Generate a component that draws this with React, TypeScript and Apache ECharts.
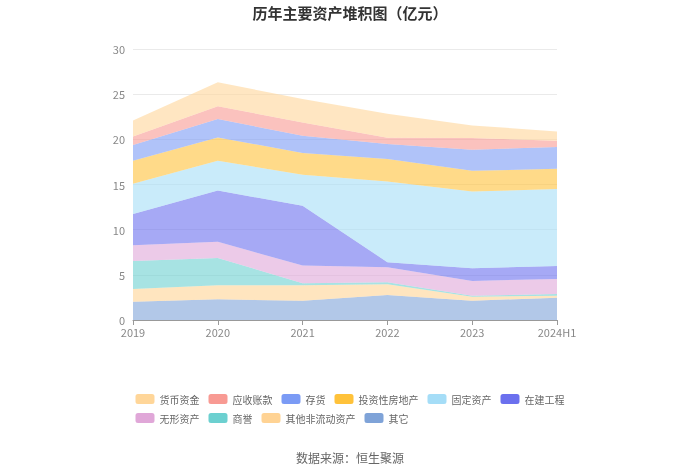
import React, { useEffect, useRef } from "react";
import * as echarts from "echarts";

const categories = ["2019", "2020", "2021", "2022", "2023", "2024H1"];

// bottom → top stacking order
const qita = [2.03, 2.29, 2.14, 2.77, 2.14, 2.47];
const qitaFeiLiudong = [1.4, 1.56, 1.71, 1.18, 0.44, 0.22];
const shangyu = [3.1, 3.02, 0.22, 0.23, 0.11, 0.19];
const wuxing = [1.74, 1.78, 1.95, 1.66, 1.63, 1.67];
const zaijian = [3.47, 5.69, 6.62, 0.56, 1.41, 1.44];
const guding = [3.33, 3.29, 3.43, 8.93, 8.5, 8.5];
const touzi = [2.55, 2.58, 2.41, 2.48, 2.29, 2.25];
const cunhuo = [1.74, 2.04, 1.92, 1.66, 2.33, 2.41];
const yingshou = [0.95, 1.4, 1.47, 0.71, 1.29, 0.69];
const huobi = [1.78, 2.66, 2.6, 2.66, 1.4, 1.04];

const seriesNames = [
  "其它",
  "其他非流动资产",
  "商誉",
  "无形资产",
  "在建工程",
  "固定资产",
  "投资性房地产",
  "存货",
  "应收账款",
  "货币资金",
];
const seriesData = [qita, qitaFeiLiudong, shangyu, wuxing, zaijian, guding, touzi, cunhuo, yingshou, huobi];
const seriesColors = [
  "#7FA3D8",
  "#FFD394",
  "#6CD0D0",
  "#E0A7D8",
  "#6B70EE",
  "#A5DDF7",
  "#FFC23A",
  "#7B9BF5",
  "#F89A93",
  "#FFD699",
];

const legendOrder = [
  "货币资金",
  "应收账款",
  "存货",
  "投资性房地产",
  "固定资产",
  "在建工程",
  "无形资产",
  "商誉",
  "其他非流动资产",
  "其它",
];

const FONT = "'Noto Sans CJK SC', 'Noto Sans', sans-serif";

export default function App() {
  const ref = useRef<HTMLDivElement>(null);
  useEffect(() => {
    if (!ref.current) return;
    const chart = echarts.init(ref.current, null, { renderer: "svg" });
    chart.setOption({
      animation: false,
      textStyle: { fontFamily: FONT },
      title: [
        {
          text: "历年主要资产堆积图（亿元）",
          left: "center",
          top: 3,
          padding: 0,
          textStyle: { fontSize: 15, fontWeight: "bold", color: "#333", fontFamily: FONT, lineHeight: 18 },
        },
        {
          text: "数据来源：恒生聚源",
          left: "center",
          top: 451,
          padding: 0,
          textStyle: { fontSize: 12, fontWeight: "normal", color: "#666", fontFamily: FONT },
        },
      ],
      legend: {
        data: legendOrder,
        left: "center",
        top: 389,
        width: 460,
        itemWidth: 19,
        itemHeight: 10,
        itemGap: 9,
        icon: "roundRect",
        textStyle: { fontSize: 10, color: "#666", fontFamily: FONT },
      },
      grid: { left: 133, right: 143, top: 49, bottom: 154 },
      xAxis: {
        type: "category",
        data: categories,
        boundaryGap: false,
        axisLine: { lineStyle: { color: "#999" } },
        axisTick: { show: true, alignWithLabel: true, lineStyle: { color: "#999" } },
        axisLabel: { color: "#888", fontSize: 11, margin: 6 },
      },
      yAxis: {
        type: "value",
        min: 0,
        max: 30,
        interval: 5,
        axisLine: { show: false },
        axisTick: { show: false },
        axisLabel: { color: "#888", fontSize: 11, margin: 8 },
        splitLine: { lineStyle: { color: "#eaeaea" } },
      },
      series: seriesNames.map((name, i) => ({
        name,
        type: "line",
        stack: "total",
        data: seriesData[i],
        symbol: "none",
        showSymbol: false,
        lineStyle: { width: 0 },
        itemStyle: { color: seriesColors[i] },
        areaStyle: { color: seriesColors[i], opacity: 0.6 },
      })),
    });
    return () => chart.dispose();
  }, []);
  return (
    <div
      ref={ref}
      style={{ position: "fixed", left: 0, top: 0, width: 700, height: 474 }}
    />
  );
}
